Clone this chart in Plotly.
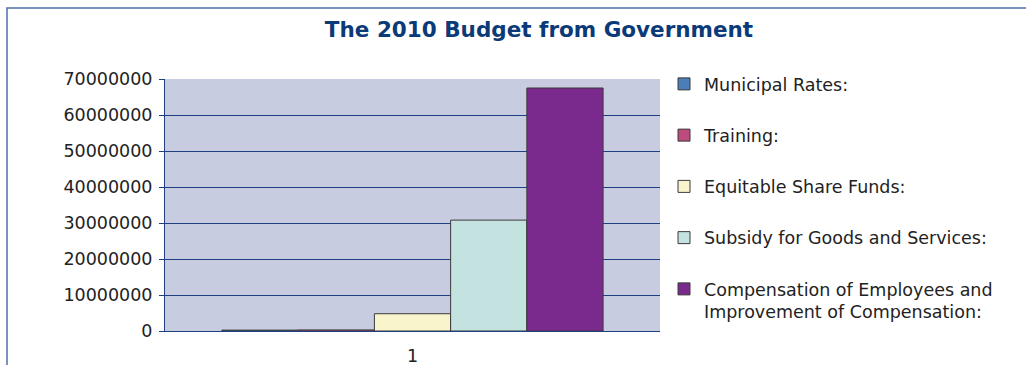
import plotly.graph_objects as go

categories = ["1"]
series_names = [
    "Municipal Rates:",
    "Training:",
    "Equitable Share Funds:",
    "Subsidy for Goods and Services:",
    "Compensation of Employees and<br>Improvement of Compensation:",
]
municipal_rates = [250000]
training = [300000]
equitable_share = [4800000]
subsidy_goods = [30800000]
compensation = [67500000]
series_values = [municipal_rates, training, equitable_share, subsidy_goods, compensation]
colors = ["#4A7EBB", "#BE4B7E", "#FAF4CC", "#C4E2E0", "#7A2A8C"]
y_ticks = [0, 10000000, 20000000, 30000000, 40000000, 50000000, 60000000, 70000000]

FONT = "DejaVu Sans"
W, H = 1026, 365
L, R, T, B = 165, 366, 79, 34
pw, ph = W - L - R, H - T - B

def px_x(p):
    return (p - L) / pw

def px_y(p):
    return (H - B - p) / ph

fig = go.Figure()
for i, (name, vals, col) in enumerate(zip(series_names, series_values, colors)):
    fig.add_trace(go.Bar(
        x=categories, y=vals, name=name,
        marker=dict(color=col, line=dict(color="#3A3A3A", width=1)),
        legendgroup=f"g{i}",
    ))

fig.update_layout(
    width=W, height=H,
    margin=dict(l=L, r=R, t=T, b=B, autoexpand=False),
    paper_bgcolor="white",
    plot_bgcolor="#C8CCE0",
    barmode="group", bargap=0.23, bargroupgap=0,
    font=dict(family=FONT, size=17.5, color="#222222"),
    title=dict(
        text="<b>The 2010 Budget from Government</b>",
        font=dict(family=FONT, size=21.5, color="#0B3A78"),
        x=px_x(539), xref="paper", xanchor="center",
        y=1 - 29 / H, yref="container", yanchor="middle",
    ),
    showlegend=True,
    legend=dict(
        x=px_x(664), y=px_y(66), xanchor="left", yanchor="top",
        traceorder="grouped", tracegroupgap=25.5, maxheight=320,
        valign="top",
        font=dict(family=FONT, size=17.5, color="#222222"),
        bgcolor="rgba(0,0,0,0)",
    ),
    xaxis=dict(
        type="category", showline=True, linecolor="#1F3F7F", linewidth=1,
        ticks="", showgrid=False, ticklabelstandoff=9, automargin=False,
        tickfont=dict(family=FONT, size=17.5, color="#222222"),
    ),
    yaxis=dict(
        range=[0, 70000000], tickvals=y_ticks, tickformat="d",
        showline=True, linecolor="#1F3F7F", linewidth=1,
        ticks="outside", ticklen=5, tickcolor="#1F3F7F",
        ticklabelstandoff=3, automargin=False,
        showgrid=True, gridcolor="#1F3F7F", gridwidth=1,
        zeroline=False,
        tickfont=dict(family=FONT, size=17.5, color="#222222"),
    ),
    shapes=[dict(
        type="rect", xref="paper", yref="paper",
        x0=px_x(7), y0=px_y(8), x1=px_x(1040), y1=px_y(380),
        line=dict(color="#4F6FA8", width=1.5), fillcolor="rgba(0,0,0,0)",
        layer="below",
    )],
)

fig.write_html("out.html")
